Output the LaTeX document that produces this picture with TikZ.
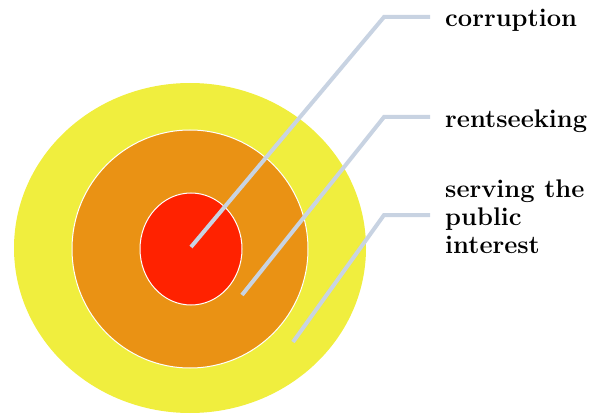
\documentclass[tikz,border=0pt]{standalone}
\usetikzlibrary{shapes.geometric,calc}
\definecolor{ringyellow}{RGB}{240,238,62}
\definecolor{ringorange}{RGB}{234,146,20}
\definecolor{ringred}{RGB}{255,34,0}
\definecolor{leader}{RGB}{200,211,226}
\begin{document}
\begin{tikzpicture}[x=1pt,y=-1pt,
  ring/.style={ellipse, inner sep=0pt},
  leaderline/.style={draw=leader, line width=4pt, line join=miter},
  lab/.style={font=\fontsize{25.5}{28}\selectfont\bfseries, anchor=base west, inner sep=0pt, align=left}]
\useasboundingbox (0,0) rectangle (592,417);
\node[ring, fill=ringyellow, minimum width=352pt, minimum height=330pt] (outer) at (190,248) {};
\node[ring, fill=ringorange, draw=white, line width=1pt, minimum width=236pt, minimum height=238pt] (middle) at (190,249) {};
\node[ring, fill=ringred, draw=white, line width=1pt, minimum width=102pt, minimum height=112pt] (inner) at (191,249) {};
\node[lab] (lab1) at (445,27) {corruption};
\node[lab] (lab2) at (445,128) {rentseeking};
\node[lab, anchor=north west] (lab3) at (445,179.3) {serving the\\public\\interest};
\coordinate (c1) at (191,247);
\coordinate (b1) at (384,17);
\coordinate (c2) at (242,295);
\coordinate (b2) at (384,117);
\coordinate (c3) at (293,342);
\coordinate (b3) at (384,215);
\draw[leaderline] (c1) -- (b1) -- ($(b1 -| lab1.west)+(-15,0)$);
\draw[leaderline] (c2) -- (b2) -- ($(b2 -| lab2.west)+(-15,0)$);
\draw[leaderline] (c3) -- (b3) -- ($(b3 -| lab3.west)+(-15,0)$);
\end{tikzpicture}
\end{document}
